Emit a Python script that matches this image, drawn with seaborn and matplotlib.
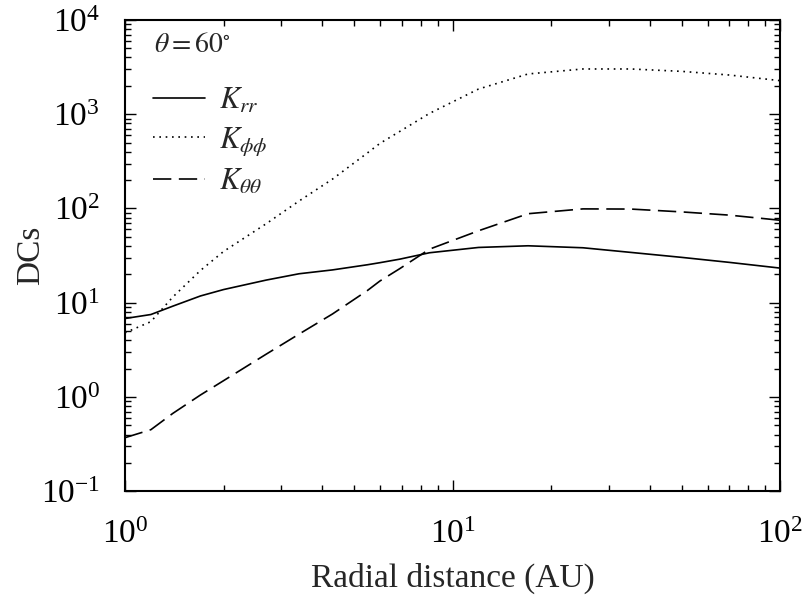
import numpy as np
import pandas as pd
import matplotlib
matplotlib.use("Agg")
import matplotlib.pyplot as plt
from matplotlib.ticker import LogLocator, NullFormatter
import seaborn as sns

# radial distance (AU)
r_au = [1.0, 1.2, 1.4, 1.7, 2.0, 2.7, 3.4, 4.3, 5.5, 6.0, 6.9, 8.5,
        12, 17, 25, 35, 50, 70, 100]
# diffusion coefficients
k_rr = [6.8, 7.5, 9.2, 11.8, 13.8, 17.4, 20.3, 22.3, 25.3, 26.6, 29.0, 33.9,
        38.6, 40.2, 38.3, 34.2, 30.3, 26.8, 23.3]
k_phiphi = [4.8, 6.3, 11.5, 22.0, 35.0, 69, 120, 205, 389, 490, 657, 1020,
            1850, 2674, 3020, 3020, 2850, 2605, 2270]
k_thth = [0.37, 0.45, 0.67, 1.05, 1.49, 2.85, 4.65, 7.6, 13.5, 17.0, 23.0, 37.0,
          58, 88, 99, 98.6, 92, 85, 75]

sns.set_style("ticks")
plt.rcParams["font.family"] = ["Liberation Serif", "DejaVu Serif"]
plt.rcParams["mathtext.fontset"] = "stix"
plt.rcParams["axes.unicode_minus"] = False

df = pd.DataFrame({"r": r_au, "Krr": k_rr, "Kpp": k_phiphi, "Ktt": k_thth})

fig = plt.figure(figsize=(8.06, 6.05), dpi=100)
ax = fig.add_axes([0.155, 0.188, 0.813, 0.779])

sns.lineplot(data=df, x="r", y="Krr", ax=ax, color="black", lw=1.2,
             label=r"$K_{rr}$")
sns.lineplot(data=df, x="r", y="Kpp", ax=ax, color="black", lw=1.2,
             linestyle=(0, (1, 2.8)), label=r"$K_{\phi\phi}$")
sns.lineplot(data=df, x="r", y="Ktt", ax=ax, color="black", lw=1.2,
             linestyle=(0, (11, 4.5)), label=r"$K_{\theta\theta}$")

ax.set_xscale("log")
ax.set_yscale("log")
ax.set_xlim(1, 100)
ax.set_ylim(0.1, 1e4)

for a in (ax.xaxis, ax.yaxis):
    a.set_major_locator(LogLocator(base=10, numticks=10))
    a.set_minor_locator(LogLocator(base=10, subs=np.arange(2, 10), numticks=50))
    a.set_minor_formatter(NullFormatter())

ax.set_xlabel("Radial distance (AU)", fontsize=24)
ax.set_ylabel("DCs", fontsize=24)
ax.xaxis.set_label_coords(0.5, -0.152)
ax.yaxis.set_label_coords(-0.12, 0.5)

for s in ax.spines.values():
    s.set_linewidth(1.5)
    s.set_color("black")
ax.tick_params(which="both", direction="in", top=True, right=True,
               colors="black")
ax.tick_params(which="major", length=8, width=1.0, labelsize=24)
ax.tick_params(which="minor", length=4, width=1.0)
ax.tick_params(axis="x", pad=20)
ax.tick_params(axis="y", pad=18)

ax.text(0.045, 0.945, r"$\theta = 60^{\circ}$", transform=ax.transAxes,
        fontsize=20, va="center", ha="left")
leg = ax.legend(loc="upper left", bbox_to_anchor=(0.01, 0.905), frameon=False,
                fontsize=22, handlelength=1.7, handletextpad=0.45,
                labelspacing=0.32, borderaxespad=0.3)

fig.savefig("out.png", dpi=100)
